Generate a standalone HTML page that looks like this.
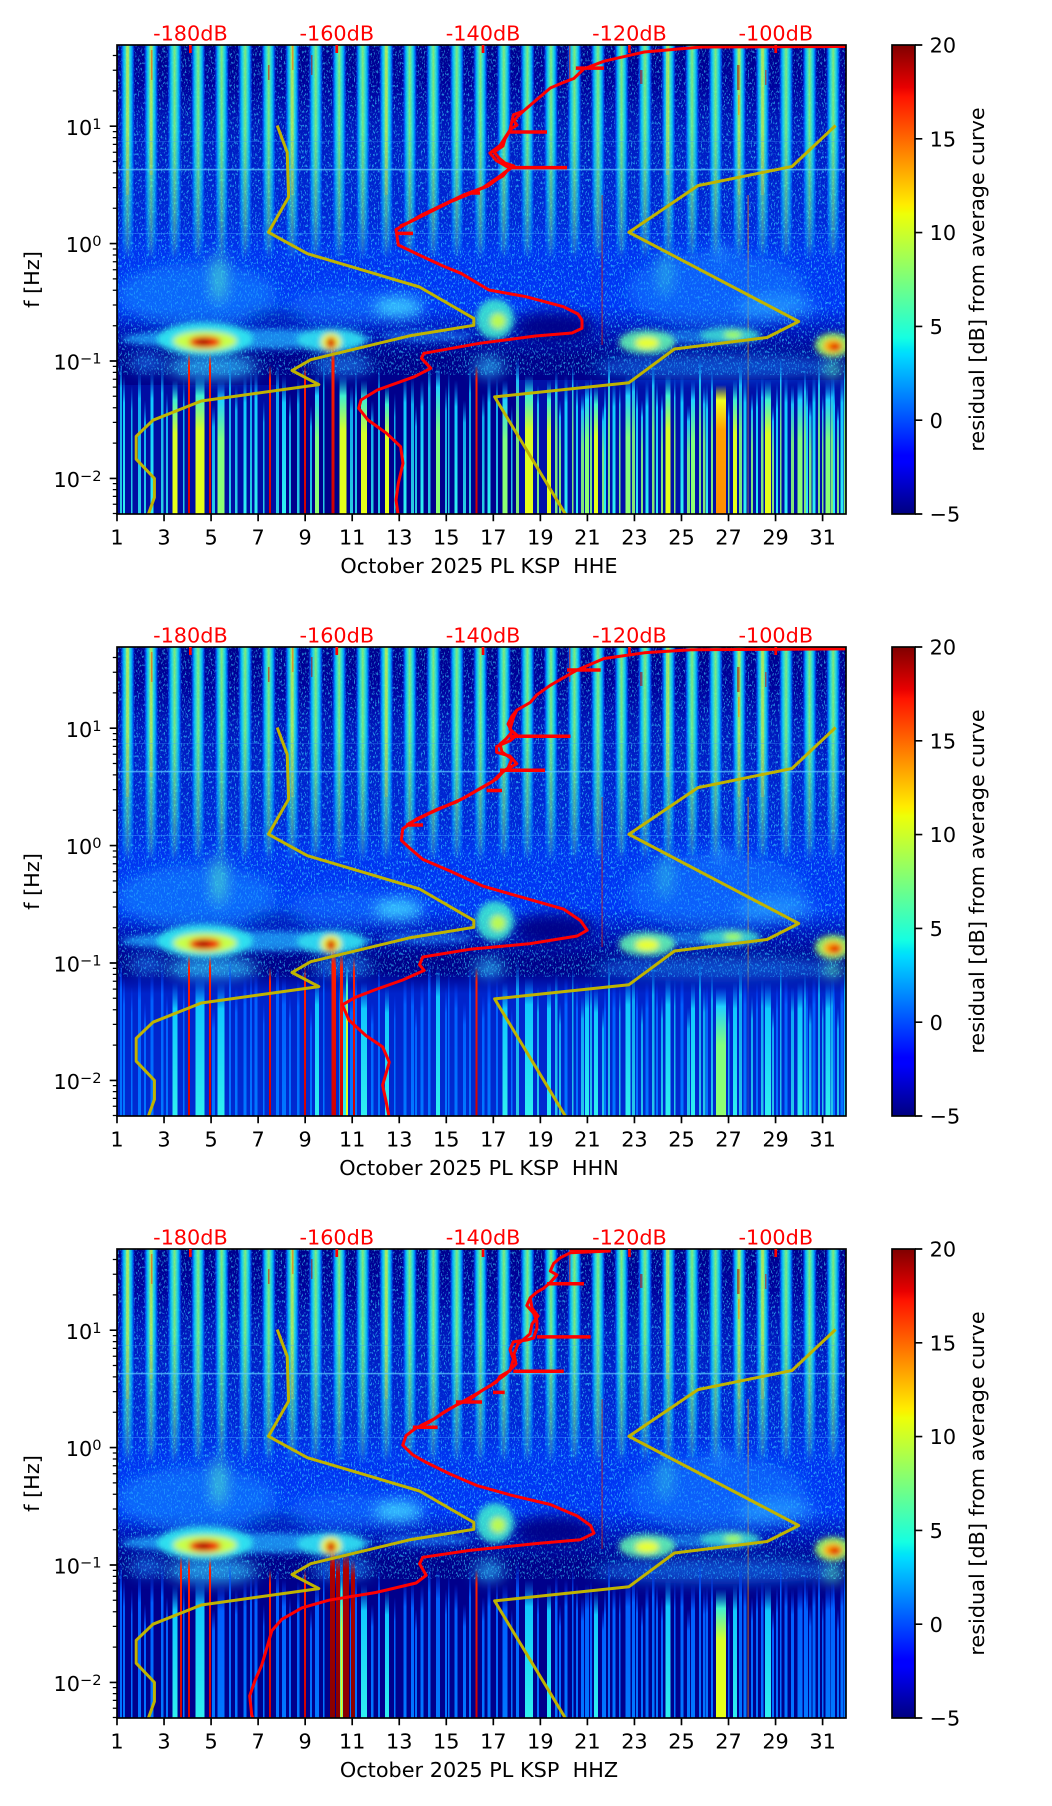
<!DOCTYPE html>
<html><head><meta charset="utf-8"><style>
html,body{margin:0;padding:0;background:#fff;}
svg{display:block;}
text{font-family:"DejaVu Sans","Liberation Sans",sans-serif;font-size:20.8px;fill:#000;}
.rl{fill:#ff0000;}
</style></head><body>
<svg xmlns="http://www.w3.org/2000/svg" width="1052" height="1806" viewBox="0 0 1052 1806">
<defs>
<clipPath id="cl"><rect x="0" y="0" width="729" height="469"/></clipPath>
<clipPath id="ca"><rect x="117" y="45" width="729" height="469"/></clipPath>
<filter id="bl3" x="-30%" y="-30%" width="160%" height="160%"><feGaussianBlur stdDeviation="3"/></filter>
<filter id="bl8" x="-30%" y="-30%" width="160%" height="160%"><feGaussianBlur stdDeviation="7"/></filter>
<filter id="spk" x="0" y="0" width="100%" height="100%"><feTurbulence type="fractalNoise" baseFrequency="0.7 0.35" numOctaves="2" seed="5"/><feColorMatrix type="matrix" values="0 0 0 0 0.05  0 0 0 0 0.75  0 0 0 0 1  0 0 0 7 -3.9"/></filter>
<linearGradient id="jet" x1="0" y1="1" x2="0" y2="0">
<stop offset="0" stop-color="#000080"/><stop offset="0.11" stop-color="#0000ff"/><stop offset="0.125" stop-color="#0000ff"/><stop offset="0.34" stop-color="#00dbff"/><stop offset="0.35" stop-color="#00e5f7"/><stop offset="0.375" stop-color="#15ffe2"/><stop offset="0.64" stop-color="#eeff08"/><stop offset="0.65" stop-color="#f7f500"/><stop offset="0.66" stop-color="#ffec00"/><stop offset="0.89" stop-color="#ff1300"/><stop offset="0.91" stop-color="#e80000"/><stop offset="1" stop-color="#800000"/>
</linearGradient>
<linearGradient id="stg" x1="0" y1="0" x2="1" y2="0">
<stop offset="0" stop-color="#00008e" stop-opacity="0"/><stop offset="0.13" stop-color="#000096" stop-opacity="0"/><stop offset="0.20" stop-color="#0050ff" stop-opacity="0.8"/><stop offset="0.27" stop-color="#00b8ff"/><stop offset="0.35" stop-color="#30f0e0"/><stop offset="0.45" stop-color="#90ff70"/><stop offset="0.55" stop-color="#30f0e0"/><stop offset="0.63" stop-color="#00b8ff"/><stop offset="0.70" stop-color="#0050ff" stop-opacity="0.8"/><stop offset="0.77" stop-color="#000096" stop-opacity="0"/><stop offset="1" stop-color="#00008e" stop-opacity="0"/>
</linearGradient>
<pattern id="stp" patternUnits="userSpaceOnUse" x="0" y="0" width="23.52" height="469"><rect width="23.52" height="469" fill="url(#stg)"/></pattern>
<linearGradient id="mg" x1="0" y1="0" x2="0" y2="1">
<stop offset="0" stop-color="#e8e8e8"/><stop offset="0.4" stop-color="#e0e0e0"/><stop offset="0.6" stop-color="#bbbbbb"/><stop offset="0.8" stop-color="#888888"/><stop offset="0.93" stop-color="#4a4a4a"/><stop offset="1" stop-color="#000"/>
</linearGradient>
<mask id="mk" maskUnits="userSpaceOnUse" x="0" y="0" width="729" height="469"><rect x="0" y="0" width="729" height="215" fill="url(#mg)"/></mask>
<linearGradient id="bgg" x1="0" y1="0" x2="0" y2="1">
<stop offset="0" stop-color="#00008e"/><stop offset="0.12" stop-color="#00009c"/><stop offset="0.25" stop-color="#0016ba"/><stop offset="0.40" stop-color="#0022cc"/><stop offset="0.57" stop-color="#0028da"/><stop offset="0.66" stop-color="#0034f0"/><stop offset="0.84" stop-color="#0036f6"/><stop offset="0.91" stop-color="#0018c0"/><stop offset="1" stop-color="#00008c"/>
</linearGradient>
<linearGradient id="sc" x1="0" y1="0" x2="0" y2="1"><stop offset="0" stop-color="#0080ff" stop-opacity="0"/><stop offset="0.2" stop-color="#10c8ff"/><stop offset="1" stop-color="#30f0f0"/></linearGradient>
<linearGradient id="sg" x1="0" y1="0" x2="0" y2="1"><stop offset="0" stop-color="#0080ff" stop-opacity="0"/><stop offset="0.15" stop-color="#20d0ff"/><stop offset="0.45" stop-color="#80ff80"/><stop offset="1" stop-color="#90ff70"/></linearGradient>
<linearGradient id="sy" x1="0" y1="0" x2="0" y2="1"><stop offset="0" stop-color="#00c0ff" stop-opacity="0"/><stop offset="0.15" stop-color="#40f0d0"/><stop offset="0.4" stop-color="#d8ff28"/><stop offset="1" stop-color="#e8ff18"/></linearGradient>
<linearGradient id="so" x1="0" y1="0" x2="0" y2="1"><stop offset="0" stop-color="#ffff00" stop-opacity="0"/><stop offset="0.12" stop-color="#f0ff20"/><stop offset="0.35" stop-color="#ffa000"/><stop offset="1" stop-color="#ff8c00"/></linearGradient>
<linearGradient id="sr" x1="0" y1="0" x2="0" y2="1"><stop offset="0" stop-color="#ff4000" stop-opacity="0"/><stop offset="0.1" stop-color="#ff2000"/><stop offset="1" stop-color="#d00000"/></linearGradient>
<linearGradient id="sb" x1="0" y1="0" x2="0" y2="1"><stop offset="0" stop-color="#0040ff" stop-opacity="0"/><stop offset="0.2" stop-color="#0060ff"/><stop offset="1" stop-color="#0078ff"/></linearGradient>
<linearGradient id="sdr" x1="0" y1="0" x2="0" y2="1"><stop offset="0" stop-color="#c00000" stop-opacity="0"/><stop offset="0.12" stop-color="#b00000"/><stop offset="1" stop-color="#880000"/></linearGradient>
<linearGradient id="p2b" x1="0" y1="0" x2="0" y2="1"><stop offset="0" stop-color="#0030e0" stop-opacity="0"/><stop offset="0.15" stop-color="#0030e0" stop-opacity="0.75"/><stop offset="1" stop-color="#0038e8" stop-opacity="0.75"/></linearGradient>

<g id="specA">
<rect x="0" y="0" width="729" height="469" fill="#00008c"/>
<rect x="0" y="0" width="729" height="312" fill="url(#bgg)"/>
<rect x="0" y="0" width="729" height="330" fill="#000" filter="url(#spk)" opacity="0.6"/>
<g mask="url(#mk)">
<rect x="0" y="0" width="729" height="215" fill="url(#stp)"/>
<g fill="#f0ff30" opacity="0.5">
<rect x="9.1" y="0" width="3" height="150"/><rect x="173.7" y="0" width="3" height="150"/><rect x="267.8" y="0" width="3" height="150"/><rect x="620.6" y="0" width="3" height="150"/><rect x="644.1" y="0" width="3" height="150"/><rect x="32.6" y="0" width="3" height="130"/><rect x="549" y="0" width="3" height="130"/>
</g>
</g>
<g opacity="0.55">
<rect x="34" y="5" width="1.5" height="30" fill="#ff4000"/>
<rect x="151" y="20" width="1.5" height="15" fill="#e00000"/>
<rect x="175" y="0" width="1.5" height="25" fill="#ff6000"/>
<rect x="194" y="10" width="1.5" height="20" fill="#c00000"/>
<rect x="452" y="0" width="1.5" height="35" fill="#ff3000"/>
<rect x="523" y="25" width="2.5" height="14" fill="#c00000"/>
<rect x="620" y="20" width="2.5" height="25" fill="#b00000"/>
<rect x="648" y="25" width="1.5" height="15" fill="#e00000"/>
<rect x="621" y="50" width="1.5" height="20" fill="#ff8000"/>
</g>
<rect x="0" y="123.8" width="729" height="1.6" fill="#60d0ff" opacity="0.7"/>
<rect x="0" y="188" width="729" height="1" fill="#40a0ff" opacity="0.45"/>
<rect x="0" y="96" width="729" height="1" fill="#40a0ff" opacity="0.3"/>
<rect x="484.5" y="150" width="1.2" height="150" fill="#e02000" opacity="0.6"/>
<rect x="630.5" y="150" width="1.2" height="319" fill="#ff9000" opacity="0.6"/>
<g filter="url(#bl8)">
<ellipse cx="80" cy="250" rx="80" ry="32" fill="#1890ff" opacity="0.55"/>
<ellipse cx="102" cy="232" rx="6" ry="26" fill="#50f0c0" opacity="0.75"/>
<ellipse cx="225" cy="262" rx="55" ry="18" fill="#1080ff" opacity="0.45"/>
<ellipse cx="282" cy="262" rx="24" ry="11" fill="#40d8ff" opacity="0.85"/>
<ellipse cx="600" cy="245" rx="90" ry="38" fill="#1888ff" opacity="0.5"/>
<ellipse cx="548" cy="228" rx="5" ry="24" fill="#40e8d0" opacity="0.6"/>
<ellipse cx="660" cy="262" rx="40" ry="12" fill="#30b8ff" opacity="0.5"/>
<ellipse cx="437" cy="282" rx="40" ry="15" fill="#000088" opacity="0.95"/>
<ellipse cx="160" cy="272" rx="30" ry="8" fill="#0010a0" opacity="0.5"/>
<ellipse cx="604" cy="206" rx="6" ry="6" fill="#40d0ff" opacity="0.6"/>
<ellipse cx="95" cy="322" rx="45" ry="13" fill="#30c8ff" opacity="0.7"/>
<ellipse cx="30" cy="318" rx="18" ry="9" fill="#2090ff" opacity="0.6"/>
<ellipse cx="225" cy="320" rx="30" ry="11" fill="#2098ff" opacity="0.6"/>
<ellipse cx="372" cy="322" rx="15" ry="10" fill="#30c8ff" opacity="0.7"/>
<ellipse cx="600" cy="322" rx="125" ry="13" fill="#1888ff" opacity="0.55"/>
<ellipse cx="716" cy="324" rx="8" ry="10" fill="#50f0c0" opacity="0.8"/>
</g>
</g>

<g id="specB" filter="url(#bl3)">
<ellipse cx="130" cy="294" rx="125" ry="10" fill="#20b0ff" opacity="0.75"/>
<ellipse cx="310" cy="291" rx="45" ry="6" fill="#2090ff" opacity="0.5"/>
<ellipse cx="585" cy="292" rx="60" ry="7" fill="#20a8ff" opacity="0.55"/>
<ellipse cx="88" cy="294" rx="48" ry="17" fill="#30e8f0" opacity="0.9"/>
<ellipse cx="88" cy="296" rx="32" ry="10" fill="#c8ff48"/>
<ellipse cx="88" cy="297" rx="16" ry="6" fill="#f02000"/>
<ellipse cx="86" cy="297" rx="7" ry="3" fill="#a00000"/>
<ellipse cx="214" cy="295" rx="34" ry="12" fill="#30e0f0" opacity="0.85"/>
<ellipse cx="214" cy="297" rx="10" ry="9" fill="#f0ff30"/>
<ellipse cx="214" cy="298" rx="5" ry="6" fill="#d80000"/>
<ellipse cx="378" cy="274" rx="19" ry="20" fill="#40f0d0" opacity="0.85"/>
<ellipse cx="381" cy="276" rx="8" ry="8" fill="#d0ff40" opacity="0.85"/>
<ellipse cx="530" cy="297" rx="28" ry="12" fill="#60f0b0" opacity="0.9"/>
<ellipse cx="530" cy="298" rx="12" ry="6" fill="#e8ff30"/>
<ellipse cx="613" cy="290" rx="30" ry="8" fill="#40e0d0" opacity="0.8"/>
<ellipse cx="616" cy="290" rx="9" ry="4" fill="#a0ff60"/>
<ellipse cx="716" cy="300" rx="18" ry="12" fill="#a0ff60" opacity="0.9"/>
<ellipse cx="716" cy="301" rx="10" ry="7" fill="#ffb000"/>
<ellipse cx="718" cy="302" rx="6" ry="4" fill="#e00000"/>
</g>

<g id="Ly">
<rect x="55.5" y="335" width="5" height="134"/><rect x="78.5" y="330" width="9" height="139"/><rect x="222.5" y="330" width="7" height="139"/><rect x="244" y="335" width="6" height="134"/><rect x="268" y="340" width="4" height="129"/><rect x="408" y="330" width="8" height="139"/><rect x="430" y="335" width="4" height="134"/><rect x="477" y="340" width="4" height="129"/><rect x="548.5" y="330" width="5" height="139"/><rect x="616" y="335" width="4" height="134"/><rect x="648" y="335" width="6" height="134"/>
</g>
<g id="Lg">
<rect x="100.5" y="335" width="7" height="134"/><rect x="198" y="330" width="4" height="139"/><rect x="319" y="320" width="4" height="149"/><rect x="385.5" y="335" width="5" height="134"/><rect x="468" y="335" width="4" height="134"/><rect x="508.5" y="330" width="5" height="139"/><rect x="574" y="335" width="4" height="134"/><rect x="680.5" y="335" width="5" height="134"/><rect x="708.5" y="335" width="5" height="134"/>
</g>
<g id="Lc">
<rect x="6" y="330" width="2" height="139"/><rect x="33.5" y="325" width="3" height="144"/><rect x="126.5" y="330" width="3" height="139"/><rect x="137.5" y="325" width="3" height="144"/><rect x="165" y="330" width="4" height="139"/><rect x="286.5" y="330" width="3" height="139"/><rect x="303.5" y="335" width="3" height="134"/><rect x="337.5" y="335" width="3" height="134"/><rect x="370.5" y="330" width="3" height="139"/><rect x="447.5" y="330" width="3" height="139"/><rect x="495.5" y="335" width="3" height="134"/><rect x="528.5" y="335" width="3" height="134"/><rect x="563.5" y="330" width="3" height="139"/><rect x="626.5" y="330" width="3" height="139"/><rect x="667.5" y="330" width="3" height="139"/><rect x="695.5" y="330" width="3" height="139"/><rect x="723.5" y="330" width="3" height="139"/>
<rect x="459" y="335" width="2" height="134"/><rect x="487" y="340" width="2" height="129"/><rect x="519" y="338" width="2" height="131"/><rect x="539" y="336" width="2" height="133"/><rect x="589" y="338" width="2" height="131"/><rect x="639" y="336" width="2" height="133"/><rect x="659" y="338" width="2" height="131"/><rect x="689" y="336" width="2" height="133"/><rect x="716" y="334" width="2" height="135"/>
</g>
<g id="Lx1">
<rect x="3" y="312" width="2" height="157"/><rect x="14" y="340" width="1.5" height="129"/><rect x="21" y="325" width="3" height="144"/><rect x="27" y="355" width="2" height="114"/><rect x="44" y="318" width="2.5" height="151"/><rect x="49" y="348" width="2" height="121"/><rect x="66" y="332" width="1.5" height="137"/><rect x="95" y="360" width="3" height="109"/><rect x="112" y="312" width="2" height="157"/><rect x="118" y="340" width="2.5" height="129"/><rect x="133" y="325" width="2" height="144"/><rect x="146" y="355" width="1.5" height="114"/><rect x="159" y="318" width="3" height="151"/><rect x="172" y="348" width="2" height="121"/><rect x="180" y="332" width="2.5" height="137"/><rect x="193" y="360" width="2" height="109"/><rect x="206" y="312" width="1.5" height="157"/><rect x="233" y="340" width="3" height="129"/><rect x="238" y="325" width="2" height="144"/><rect x="254" y="355" width="2.5" height="114"/><rect x="261" y="318" width="2" height="151"/><rect x="277" y="348" width="1.5" height="121"/><rect x="294" y="332" width="3" height="137"/><rect x="298" y="360" width="2" height="109"/><rect x="311" y="312" width="2.5" height="157"/><rect x="328" y="340" width="2" height="129"/><rect x="331" y="325" width="1.5" height="144"/><rect x="346" y="355" width="3" height="114"/><rect x="352" y="318" width="2" height="151"/><rect x="365" y="348" width="2.5" height="121"/><rect x="379" y="332" width="2" height="137"/><rect x="394" y="360" width="1.5" height="109"/>
</g>
<g id="Lx2">
<rect x="399" y="312" width="3" height="157"/><rect x="420" y="340" width="2" height="129"/><rect x="438" y="325" width="2.5" height="144"/><rect x="442" y="355" width="2" height="114"/><rect x="455" y="318" width="1.5" height="151"/><rect x="464" y="348" width="3" height="121"/><rect x="473" y="332" width="2" height="137"/><rect x="485" y="360" width="2.5" height="109"/><rect x="491" y="312" width="2" height="157"/><rect x="502" y="340" width="1.5" height="129"/><rect x="515" y="325" width="3" height="144"/><rect x="524" y="355" width="2" height="114"/><rect x="535" y="318" width="2.5" height="151"/><rect x="544" y="348" width="2" height="121"/><rect x="557" y="332" width="1.5" height="137"/><rect x="570" y="360" width="3" height="109"/><rect x="582" y="312" width="2" height="157"/><rect x="586" y="340" width="2.5" height="129"/><rect x="594" y="325" width="2" height="144"/><rect x="611" y="355" width="1.5" height="114"/><rect x="622" y="318" width="3" height="151"/><rect x="634" y="348" width="2" height="121"/><rect x="644" y="332" width="2.5" height="137"/><rect x="655" y="360" width="2" height="109"/><rect x="663" y="312" width="1.5" height="157"/><rect x="674" y="340" width="3" height="129"/><rect x="687" y="325" width="2" height="144"/><rect x="692" y="355" width="2.5" height="114"/><rect x="701" y="318" width="2" height="151"/><rect x="705" y="348" width="1.5" height="121"/><rect x="714" y="332" width="3" height="137"/><rect x="720" y="360" width="2" height="109"/><rect x="727" y="312" width="2" height="157"/>
</g>
<g id="Lo"><rect x="599" y="340" width="10" height="129"/></g>
<g id="Lr">
<rect x="152" y="320" width="2" height="149"/><rect x="187" y="320" width="2" height="149"/><rect x="214.5" y="300" width="3" height="169"/><rect x="358.5" y="320" width="2" height="149"/><rect x="71" y="305" width="2" height="164"/><rect x="92" y="305" width="2" height="164"/>
</g>

<g id="deco">
<rect x="892" y="45" width="23" height="469" fill="url(#jet)"/>
<rect x="892" y="45" width="23" height="469" fill="none" stroke="#000" stroke-width="1.67"/>
<path d="M915 45H922.3M915 138.8H922.3M915 232.6H922.3M915 326.4H922.3M915 420.2H922.3M915 514H922.3" stroke="#000" stroke-width="1.67" fill="none"/>
<rect x="117" y="45" width="729" height="469" fill="none" stroke="#000" stroke-width="1.67"/>
<path d="M109.7 126.2H117M109.7 243.6H117M109.7 361H117M109.7 478.4H117" stroke="#000" stroke-width="1.67" fill="none"/>
<path d="M112.8 513.5H117M112.8 504.3H117M112.8 496.4H117M112.8 489.6H117M112.8 483.6H117M112.8 443.1H117M112.8 422.4H117M112.8 407.7H117M112.8 396.3H117M112.8 387.1H117M112.8 379.2H117M112.8 372.4H117M112.8 366.4H117M112.8 325.7H117M112.8 305H117M112.8 290.3H117M112.8 278.9H117M112.8 269.7H117M112.8 261.8H117M112.8 255H117M112.8 249H117M112.8 208.3H117M112.8 187.6H117M112.8 172.9H117M112.8 161.5H117M112.8 152.3H117M112.8 144.4H117M112.8 137.6H117M112.8 131.6H117M112.8 90.9H117M112.8 70.2H117M112.8 55.5H117" stroke="#000" stroke-width="1.25" fill="none"/>
<path d="M117 514V521.3M164.04 514V521.3M211.08 514V521.3M258.12 514V521.3M305.16 514V521.3M352.2 514V521.3M399.24 514V521.3M446.28 514V521.3M493.32 514V521.3M540.36 514V521.3M587.4 514V521.3M634.44 514V521.3M681.48 514V521.3M728.52 514V521.3M775.56 514V521.3M822.6 514V521.3" stroke="#000" stroke-width="1.67" fill="none"/>
<g fill="#ff0000"><rect x="189" y="45" width="2.7" height="8"/><rect x="335.4" y="45" width="2.7" height="8"/><rect x="481.7" y="45" width="2.7" height="8"/><rect x="628.1" y="45" width="2.7" height="8"/><rect x="774.4" y="45" width="2.7" height="8"/></g>
</g>

<g id="yel" fill="none" stroke="#c0b400" stroke-width="3" stroke-linejoin="round">
<path d="M277.2,125.5 L287.2,152.3 L288.6,197.1 L268.5,232.3 L307.4,253.7 L419.5,287 L473.8,318.4 L473.8,325.3 L410.7,335.6 L310.7,359.7 L292,370.5 L318.8,384.6 L201.3,401 L153,420.2 L136.2,436.3 L136.2,459.2 L154.4,478.4 L154.4,497.5 L147.7,516"/>
<path d="M835.6,125.5 L792,166.5 L698,185.6 L628.9,232.3 L798.7,321.5 L767.1,337.5 L674.5,349 L628.9,382.7 L494.6,396.9 L566.5,516"/>
</g>
</defs>

<rect width="1052" height="1806" fill="#fff"/>

<!-- PANEL 1 -->
<g>
<g transform="translate(117,45)" clip-path="url(#cl)">
<use href="#specA"/>
<rect x="400" y="335" width="329" height="134" fill="#0040ff" opacity="0.25"/>
<rect x="0" y="340" width="160" height="129" fill="#0040ff" opacity="0.2"/>
<use href="#Lx1" fill="url(#sc)" opacity="0.85"/>
<use href="#Lx2" fill="url(#sg)" opacity="0.9"/>
<use href="#Ly" fill="url(#sy)"/>
<use href="#Lg" fill="url(#sg)"/>
<use href="#Lc" fill="url(#sc)"/>
<use href="#Lo" fill="url(#so)"/>
<use href="#Lr" fill="url(#sr)"/>
<use href="#specB"/>
</g>
<g clip-path="url(#ca)">
<use href="#yel"/>
<g fill="none" stroke="#ff0000" stroke-linejoin="round">
<path stroke-width="3" d="M846,46.5 L701.3,47 L644.3,52 L604,61.2 L583.9,68.9 L573.8,78.5 L563.8,82.3 L550.3,88 L536.9,99.5 L523.5,111 L513.4,114.8 L510,130.1 L500,145.4 L489.9,153.1 L496.6,160.7 L510,168.4 L500,176 L483.2,187.5 L463,195.2 L443,204.7 L422.8,214.3 L402.7,225.8 L396,229.6 L398.3,245 L419.2,255 L443,266 L461,273.3 L489,290 L526,296.7 L563.3,306.7 L578,314 L582,320 L582,328.3 L572,333 L535.4,336 L479.6,343.3 L423.8,353.3 L421.5,358.3 L430.8,368.3 L414.5,376.7 L377.3,390 L361,400 L358.7,408.3 L368,420 L386.6,433.3 L400.6,446.7 L403,463.3 L398.3,483.3 L396,500 L398.3,516"/>
<path stroke-width="3" d="M523.5,111 L518,116 L514,121 L517,125 L511,129 L505,139 L503,146 L494,152 L499,158 L505,163 L514,166 L507,171 L503,176 L496,180 L488,186 L478,190 L467,195 L450,202 L430,212 L410,222 L400,226"/>
<path stroke-width="3.5" d="M575.8,68.1H604M510,132H547M510,167.6H567M396,233.4H413M470,193H480"/>
</g>
</g>
<use href="#deco"/>
<text class="rl" x="190.4" y="40.5" text-anchor="middle">-180dB</text>
<text class="rl" x="336.8" y="40.5" text-anchor="middle">-160dB</text>
<text class="rl" x="483.1" y="40.5" text-anchor="middle">-140dB</text>
<text class="rl" x="629.5" y="40.5" text-anchor="middle">-120dB</text>
<text class="rl" x="775.8" y="40.5" text-anchor="middle">-100dB</text>
<text x="101.5" y="134.8" text-anchor="end">10<tspan dy="-6" font-size="14.6">1</tspan></text>
<text x="101.5" y="252.2" text-anchor="end">10<tspan dy="-6" font-size="14.6">0</tspan></text>
<text x="101.5" y="369.6" text-anchor="end">10<tspan dy="-6" font-size="14.6">−1</tspan></text>
<text x="101.5" y="487" text-anchor="end">10<tspan dy="-6" font-size="14.6">−2</tspan></text>
<g text-anchor="middle">
<text x="117" y="544.3">1</text><text x="164.04" y="544.3">3</text><text x="211.08" y="544.3">5</text><text x="258.12" y="544.3">7</text><text x="305.16" y="544.3">9</text><text x="352.2" y="544.3">11</text><text x="399.24" y="544.3">13</text><text x="446.28" y="544.3">15</text><text x="493.32" y="544.3">17</text><text x="540.36" y="544.3">19</text><text x="587.4" y="544.3">21</text><text x="634.44" y="544.3">23</text><text x="681.48" y="544.3">25</text><text x="728.52" y="544.3">27</text><text x="775.56" y="544.3">29</text><text x="822.6" y="544.3">31</text>
</g>
<text x="479" y="573" text-anchor="middle" style="white-space:pre">October 2025 PL KSP  HHE</text>
<text transform="translate(39,279.5) rotate(-90)" text-anchor="middle">f [Hz]</text>
<text x="929.6" y="52.6">20</text><text x="929.6" y="146.4">15</text><text x="929.6" y="240.2">10</text><text x="929.6" y="334">5</text><text x="929.6" y="427.8">0</text><text x="929.6" y="521.6">−5</text>
<text transform="translate(984,279.5) rotate(-90)" text-anchor="middle">residual [dB] from average curve</text>
</g>

<!-- PANEL 2 -->
<g transform="translate(0,602)">
<g transform="translate(117,45)" clip-path="url(#cl)">
<use href="#specA"/>
<rect x="0" y="325" width="729" height="144" fill="url(#p2b)"/>
<use href="#Lx1" fill="url(#sb)"/>
<use href="#Lx2" fill="url(#sc)" opacity="0.8"/>
<use href="#Ly" fill="url(#sc)"/>
<use href="#Lg" fill="url(#sc)"/>
<use href="#Lc" fill="url(#sb)"/>
<use href="#Lo" fill="url(#sg)"/>
<use href="#Lr" fill="url(#sr)"/>
<rect x="217" y="305" width="2" height="164" fill="url(#sr)"/>
<rect x="223" y="305" width="3" height="164" fill="url(#sr)"/>
<rect x="236" y="310" width="2" height="159" fill="url(#sr)"/>
<rect x="229" y="315" width="2" height="154" fill="url(#sy)"/>
<use href="#specB"/>
</g>
<g clip-path="url(#ca)">
<use href="#yel"/>
<g fill="none" stroke="#ff0000" stroke-linejoin="round">
<path stroke-width="3" d="M846,46.9 L691.3,47.7 L644.3,50.8 L604,56.5 L590.6,62.2 L577.2,68 L567.1,73.7 L560.4,77.5 L550.3,83.3 L536.9,92.8 L530.2,100.5 L516.8,108.2 L513.4,115.8 L510,127.3 L516.8,133 L510,138.8 L496.6,144.5 L496.6,150.3 L510,154.1 L516.8,161.7 L503.4,169.4 L496.6,177 L483.2,184.7 L469.8,192.4 L456.4,200 L436.2,207.7 L416.1,217.2 L402.7,226.8 L401.3,238.3 L409.4,245.9 L422.8,257.4 L449.7,268.9 L483.2,284.2 L523.5,295.7 L563.8,307.2 L580.5,318.6 L587.2,328.2 L577.2,334 L530.2,341.6 L469.8,347.3 L422.8,355 L419.5,362.7 L424.2,368.4 L402.7,378 L375.8,387.5 L355.7,395.2 L342.3,402.8 L349,418.1 L365.8,433.5 L382.6,444.9 L389.3,460.2 L382.6,483.2 L385.9,498.5 L389.3,516"/>
<path stroke-width="3" d="M516.8,108.2 L512,114 L508,122 L512,130 L506,137 L500,142 L502,150 L512,157 L508,166 L500,172 L492,180 L478,188 L464,196 L448,203 L428,212 L408,222"/>
<path stroke-width="3.5" d="M567,68H600.7M510,134.2H570.5M500,168.2H545M486.6,188.5H502M406,223H423"/>
</g>
</g>
<use href="#deco"/>
<text class="rl" x="190.4" y="40.5" text-anchor="middle">-180dB</text>
<text class="rl" x="336.8" y="40.5" text-anchor="middle">-160dB</text>
<text class="rl" x="483.1" y="40.5" text-anchor="middle">-140dB</text>
<text class="rl" x="629.5" y="40.5" text-anchor="middle">-120dB</text>
<text class="rl" x="775.8" y="40.5" text-anchor="middle">-100dB</text>
<text x="101.5" y="134.8" text-anchor="end">10<tspan dy="-6" font-size="14.6">1</tspan></text>
<text x="101.5" y="252.2" text-anchor="end">10<tspan dy="-6" font-size="14.6">0</tspan></text>
<text x="101.5" y="369.6" text-anchor="end">10<tspan dy="-6" font-size="14.6">−1</tspan></text>
<text x="101.5" y="487" text-anchor="end">10<tspan dy="-6" font-size="14.6">−2</tspan></text>
<g text-anchor="middle">
<text x="117" y="544.3">1</text><text x="164.04" y="544.3">3</text><text x="211.08" y="544.3">5</text><text x="258.12" y="544.3">7</text><text x="305.16" y="544.3">9</text><text x="352.2" y="544.3">11</text><text x="399.24" y="544.3">13</text><text x="446.28" y="544.3">15</text><text x="493.32" y="544.3">17</text><text x="540.36" y="544.3">19</text><text x="587.4" y="544.3">21</text><text x="634.44" y="544.3">23</text><text x="681.48" y="544.3">25</text><text x="728.52" y="544.3">27</text><text x="775.56" y="544.3">29</text><text x="822.6" y="544.3">31</text>
</g>
<text x="479" y="573" text-anchor="middle" style="white-space:pre">October 2025 PL KSP  HHN</text>
<text transform="translate(39,279.5) rotate(-90)" text-anchor="middle">f [Hz]</text>
<text x="929.6" y="52.6">20</text><text x="929.6" y="146.4">15</text><text x="929.6" y="240.2">10</text><text x="929.6" y="334">5</text><text x="929.6" y="427.8">0</text><text x="929.6" y="521.6">−5</text>
<text transform="translate(984,279.5) rotate(-90)" text-anchor="middle">residual [dB] from average curve</text>
</g>

<!-- PANEL 3 -->
<g transform="translate(0,1204)">
<g transform="translate(117,45)" clip-path="url(#cl)">
<use href="#specA"/>
<use href="#Lx1" fill="url(#sb)"/>
<use href="#Lx2" fill="url(#sb)"/>
<use href="#Ly" fill="url(#sc)"/>
<use href="#Lg" fill="url(#sb)"/>
<use href="#Lc" fill="url(#sb)"/>
<use href="#Lo" fill="url(#sy)"/>
<use href="#Lr" fill="url(#sr)"/>
<rect x="213" y="300" width="5" height="169" fill="url(#sdr)"/>
<rect x="219" y="305" width="4" height="164" fill="url(#sdr)"/>
<rect x="226" y="300" width="6" height="169" fill="url(#sdr)"/>
<rect x="234" y="310" width="4" height="159" fill="url(#sdr)"/>
<rect x="223.5" y="320" width="2" height="149" fill="url(#sy)"/>
<rect x="63" y="305" width="2" height="164" fill="url(#sr)"/>
<use href="#specB"/>
</g>
<g clip-path="url(#ca)">
<use href="#yel"/>
<g fill="none" stroke="#ff0000" stroke-linejoin="round">
<path stroke-width="3" d="M610.7,47 L570.5,48.7 L560.4,53.7 L553.7,59.4 L550.3,67.1 L557,70.9 L550.3,78.5 L543.6,84.3 L536.9,88.1 L530.2,93.8 L526.8,101.5 L533.6,109.2 L536.9,116.8 L536.9,124.5 L533.6,134 L526.8,136 L513.4,137.9 L510,145.5 L513.4,155.1 L510,166.6 L500,172.3 L496.6,178 L483.2,185.7 L469.8,195.3 L456.4,201 L443,208.7 L429.5,218.2 L416.1,224 L406,231.6 L402.7,241.2 L412.8,250.8 L426.2,258.4 L449.7,269.9 L476.5,281.4 L510,290.9 L550.3,300.5 L577.2,312 L590.6,321.6 L594,329.2 L580.5,335.7 L536.9,339.5 L469.8,346.4 L422.8,353.3 L419.5,359.8 L426.2,371.3 L416.1,379 L375.8,388.5 L328.9,396.2 L302,403.8 L281.9,415.3 L271.8,426.8 L265.1,449.8 L261.7,461.2 L255,476.6 L249.7,491.9 L251.7,511 L253.7,516"/>
<path stroke-width="3" d="M610,45.8H570M530.2,93.8 L532,104 L538,112 L532,120 L530,130 L518,140 L514,150 L516,160 L506,170 L498,176 L490,182 L476,190 L462,198 L448,206 L434,215 L420,222"/>
<path stroke-width="3.5" d="M547,79.7H584M537,132.9H590.6M513.4,167.3H563.8M493,188.4H504.7M456,198H482M412.8,223.2H437.6"/>
</g>
</g>
<use href="#deco"/>
<text class="rl" x="190.4" y="40.5" text-anchor="middle">-180dB</text>
<text class="rl" x="336.8" y="40.5" text-anchor="middle">-160dB</text>
<text class="rl" x="483.1" y="40.5" text-anchor="middle">-140dB</text>
<text class="rl" x="629.5" y="40.5" text-anchor="middle">-120dB</text>
<text class="rl" x="775.8" y="40.5" text-anchor="middle">-100dB</text>
<text x="101.5" y="134.8" text-anchor="end">10<tspan dy="-6" font-size="14.6">1</tspan></text>
<text x="101.5" y="252.2" text-anchor="end">10<tspan dy="-6" font-size="14.6">0</tspan></text>
<text x="101.5" y="369.6" text-anchor="end">10<tspan dy="-6" font-size="14.6">−1</tspan></text>
<text x="101.5" y="487" text-anchor="end">10<tspan dy="-6" font-size="14.6">−2</tspan></text>
<g text-anchor="middle">
<text x="117" y="544.3">1</text><text x="164.04" y="544.3">3</text><text x="211.08" y="544.3">5</text><text x="258.12" y="544.3">7</text><text x="305.16" y="544.3">9</text><text x="352.2" y="544.3">11</text><text x="399.24" y="544.3">13</text><text x="446.28" y="544.3">15</text><text x="493.32" y="544.3">17</text><text x="540.36" y="544.3">19</text><text x="587.4" y="544.3">21</text><text x="634.44" y="544.3">23</text><text x="681.48" y="544.3">25</text><text x="728.52" y="544.3">27</text><text x="775.56" y="544.3">29</text><text x="822.6" y="544.3">31</text>
</g>
<text x="479" y="573" text-anchor="middle" style="white-space:pre">October 2025 PL KSP  HHZ</text>
<text transform="translate(39,279.5) rotate(-90)" text-anchor="middle">f [Hz]</text>
<text x="929.6" y="52.6">20</text><text x="929.6" y="146.4">15</text><text x="929.6" y="240.2">10</text><text x="929.6" y="334">5</text><text x="929.6" y="427.8">0</text><text x="929.6" y="521.6">−5</text>
<text transform="translate(984,279.5) rotate(-90)" text-anchor="middle">residual [dB] from average curve</text>
</g>
</svg>
</body></html>
